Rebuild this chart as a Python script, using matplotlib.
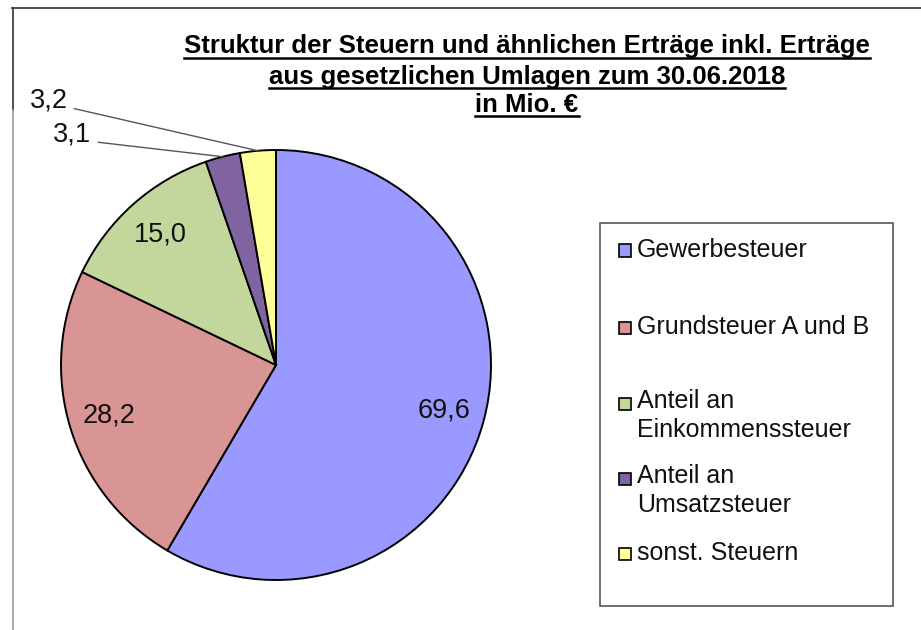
import matplotlib
matplotlib.use("Agg")
import matplotlib.pyplot as plt
from matplotlib.lines import Line2D
from matplotlib.patches import Rectangle
import numpy as np

plt.rcParams['font.family'] = ['Liberation Sans', 'DejaVu Sans']

# ---- data ----
categories = ["Gewerbesteuer", "Grundsteuer A und B", "Anteil an\nEinkommenssteuer",
              "Anteil an\nUmsatzsteuer", "sonst. Steuern"]
values = [69.6, 28.2, 15.0, 3.1, 3.2]
value_labels = ["69,6", "28,2", "15,0", "3,1", "3,2"]
colors = ["#9999FF", "#D99594", "#C3D69B", "#8064A2", "#FFFF99"]
title_lines = ["Struktur der Steuern und ähnlichen Erträge inkl. Erträge",
               "aus gesetzlichen Umlagen zum 30.06.2018",
               "in Mio. €"]

W, H = 921, 630
fig = plt.figure(figsize=(W / 100, H / 100), dpi=100)

def fx(px):
    return px / W

def fy(py):
    return 1 - py / H

# frame lines (top + left)
fig.add_artist(Line2D([fx(12), 1], [fy(7.5), fy(7.5)], color="#333333", lw=1.2))
fig.add_artist(Line2D([fx(12.5), fx(12.5)], [fy(7.5), fy(110)], color="#333333", lw=1.2))
fig.add_artist(Line2D([fx(13), fx(13)], [fy(110), 0], color="#999999", lw=1.2))

# ---- pie ----
cx, cy, r = 276, 365, 215
ax = fig.add_axes([fx(cx - r), fy(cy + r), 2 * r / W, 2 * r / H])
wedges, texts = ax.pie(values, colors=colors, startangle=90, counterclock=False,
                       radius=1, labels=[v if i < 3 else "" for i, v in enumerate(value_labels)],
                       labeldistance=0.81,
                       wedgeprops=dict(edgecolor="black", linewidth=1.4),
                       textprops=dict(fontsize=19.5, color="#111111", ha="center", va="center"))
for t in texts:
    t.set_ha("center")
ax.set_xlim(-1, 1)
ax.set_ylim(-1, 1)
ax.set_aspect("equal")
ax.axis("off")

# small slice labels with leader lines
small_text_pos = {3: (-0.86, 1.07), 4: (-0.97, 1.23)}
for i, (tx, ty) in small_text_pos.items():
    w = wedges[i]
    ang = np.deg2rad((w.theta1 + w.theta2) / 2)
    ax.annotate(value_labels[i], xy=(np.cos(ang), np.sin(ang)), xytext=(tx, ty),
                textcoords="data", fontsize=19.5, color="#111111", ha="right", va="center",
                annotation_clip=False,
                arrowprops=dict(arrowstyle="-", color="#555555", lw=1.0,
                                shrinkA=3, shrinkB=0, relpos=(1.0, 0.25)))

# ---- title (bold, underlined) ----
title_baselines = [53.5, 84, 112]
title_objs = []
for line, b in zip(title_lines, title_baselines):
    t = fig.text(fx(527), fy(b), line, ha="center", va="baseline",
                 fontsize=18.5, fontweight="bold", color="black")
    title_objs.append((t, b))

# ---- legend (manual) ----
fig.add_artist(Rectangle((fx(600), fy(606)), fx(893) - fx(600), fy(223) - fy(606),
                         transform=fig.transFigure, facecolor="white",
                         edgecolor="#555555", lw=1.2))
legend_y = [250, 327, 403, 478, 553]
for lab, col, y in zip(categories, colors, legend_y):
    fig.add_artist(Rectangle((fx(619), fy(y + 6.5)), 12 / W, 12 / H,
                             transform=fig.transFigure, facecolor=col,
                             edgecolor="black", lw=1.2))
    fig.text(fx(637), fy(y), lab, ha="left", va="top" if "\n" in lab else "center",
             fontsize=18, color="#111111", linespacing=1.27)

# align two-line legend entries: first line centered at y
fig.canvas.draw()
renderer = fig.canvas.get_renderer()
for t in fig.texts:
    if "\n" in t.get_text() and t.get_position()[0] > 0.6:
        bb = t.get_window_extent(renderer)
        line_h = 18 * 100 / 72 * 1.15
        y_top = t.get_position()[1]
        t.set_position((t.get_position()[0], y_top + (line_h / 2) / H))

# underlines
fig.canvas.draw()
for t, b in title_objs:
    bb = t.get_window_extent(renderer)
    uy = fy(b + 4)
    fig.add_artist(Line2D([bb.x0 / W, bb.x1 / W], [uy, uy], color="black", lw=1.8))

fig.savefig("out.png", dpi=100, facecolor="white")
